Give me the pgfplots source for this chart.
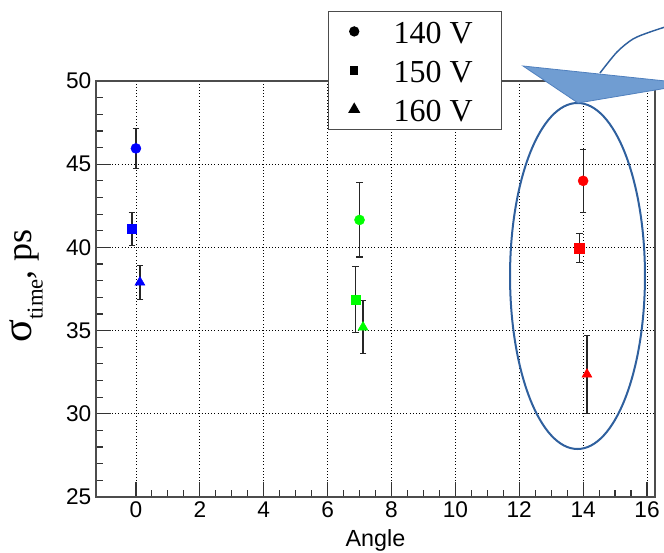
\documentclass[border=0pt]{standalone}
\usepackage{graphicx}
\usepackage{fontspec}
\setmainfont{Liberation Sans}
\newfontfamily\serif{Liberation Serif}
\usepackage{pgfplots}
\pgfplotsset{compat=1.18}
\definecolor{ellc}{RGB}{47,96,158}
\definecolor{trifill}{RGB}{112,157,210}
\definecolor{triedge}{RGB}{80,128,190}
\definecolor{rgreen}{RGB}{0,255,0}
\begin{document}
\begin{tikzpicture}
\path[use as bounding box] (-72pt,-42pt) rectangle (426pt,372.75pt);
\begin{axis}[
  scale only axis,
  width=419.25pt, height=312pt,
  xmin=-1.25, xmax=16.25, ymin=25, ymax=50,
  xtick={0,2,...,16}, ytick={25,30,...,50},
  minor x tick num=3, minor y tick num=4,
  xtick pos=bottom, ytick pos=left, tick align=inside,
  major tick length=11pt, minor tick length=5.5pt,
  tick style={black!80, line width=0.9pt},
  axis line style={black!70, line width=1.1pt},
  grid=major,
  major grid style={black, dotted, line width=0.6pt},
  /pgf/number format/assume math mode=true,
  ticklabel style={font=\fontsize{17}{17}\selectfont},
  xlabel={Angle},
  every axis x label/.style={at={(axis description cs:0.5,-0.120)}, anchor=base, font=\fontsize{17.5}{17.5}\selectfont},
  ylabel={\serif\fontsize{27}{27}\selectfont\scalebox{1.18}{σ}\raisebox{-8pt}{\fontsize{17}{17}\selectfont time}, ps},
  every axis y label/.style={at={(axis description cs:-0.1145,0.508)}, rotate=90, anchor=base},
  legend style={at={(axis description cs:0.415,1.169)}, anchor=north west,
    draw=black!70, line width=1.1pt, fill=white,
    font=\serif\fontsize{24}{24}\selectfont,
    nodes={inner sep=0pt, text height=18pt, text depth=0pt},
    row sep=11.25pt, column sep=26pt, inner xsep=15.5pt, inner ysep=6pt},
  legend cell align=left,
  error bars/error bar style={black!85, line width=0.9pt},
  error bars/error mark options={black!85, line width=0.9pt, mark size=2.5pt, rotate=90},
]
\addlegendimage{only marks, mark=*, black, mark size=3.3pt}
\addlegendentry{140 V\hspace*{6pt}}
\addlegendimage{only marks, mark=square*, black, mark size=2.6pt}
\addlegendentry{150 V\hspace*{6pt}}
\addlegendimage{only marks, mark=triangle*, black, mark size=4.2pt}
\addlegendentry{160 V\hspace*{6pt}}

% 140 V (circles)
\addplot[forget plot, only marks, mark=*, mark size=3.75pt, mark options={fill=blue, draw=blue},
  error bars/.cd, y dir=both, y explicit] coordinates {(0,45.95) +- (0,1.2)};
\addplot[forget plot, only marks, mark=*, mark size=3.75pt, mark options={fill=rgreen, draw=rgreen},
  error bars/.cd, y dir=both, y explicit] coordinates {(7.0,41.65) +- (0,2.23)};
\addplot[forget plot, only marks, mark=*, mark size=3.75pt, mark options={fill=red, draw=red},
  error bars/.cd, y dir=both, y explicit] coordinates {(14.0,44.0) +- (0,1.9)};
% 150 V (squares)
\addplot[forget plot, only marks, mark=square*, mark size=3.5pt, mark options={fill=blue, draw=blue},
  error bars/.cd, y dir=both, y explicit] coordinates {(-0.125,41.1) +- (0,1.0)};
\addplot[forget plot, only marks, mark=square*, mark size=3.5pt, mark options={fill=rgreen, draw=rgreen},
  error bars/.cd, y dir=both, y explicit] coordinates {(6.88,36.85) +- (0,1.98)};
\addplot[forget plot, only marks, mark=square*, mark size=3.5pt, mark options={fill=red, draw=red},
  error bars/.cd, y dir=both, y explicit] coordinates {(13.88,39.95) +- (0,0.88)};
% 160 V (triangles)
\addplot[forget plot, only marks, mark=triangle*, mark size=4.3pt, mark options={fill=blue, draw=blue},
  error bars/.cd, y dir=both, y explicit] coordinates {(0.125,37.9) +- (0,1.02)};
\addplot[forget plot, only marks, mark=triangle*, mark size=4.3pt, mark options={fill=rgreen, draw=rgreen},
  error bars/.cd, y dir=both, y explicit] coordinates {(7.11,35.2) +- (0,1.6)};
\addplot[forget plot, only marks, mark=triangle*, mark size=4.3pt, mark options={fill=red, draw=red},
  error bars/.cd, y dir=both, y explicit] coordinates {(14.12,32.37) +- (0,2.35)};
\end{axis}
% annotations
\draw[ellc, line width=1.5pt] (361.125pt,165.75pt) ellipse [x radius=50.6pt, y radius=129.75pt];
\filldraw[fill=trifill, draw=triedge, line width=0.6pt]
  (320.25pt,323.25pt) -- (430pt,311.7pt) -- (430pt,307pt) -- (361.5pt,295.5pt) -- cycle;
\draw[ellc, line width=1.1pt] plot[smooth] coordinates {(378pt,318pt) (390.75pt,333.75pt) (402.75pt,343.5pt) (415.5pt,348.75pt) (430pt,353.5pt)};
\end{tikzpicture}
\end{document}
